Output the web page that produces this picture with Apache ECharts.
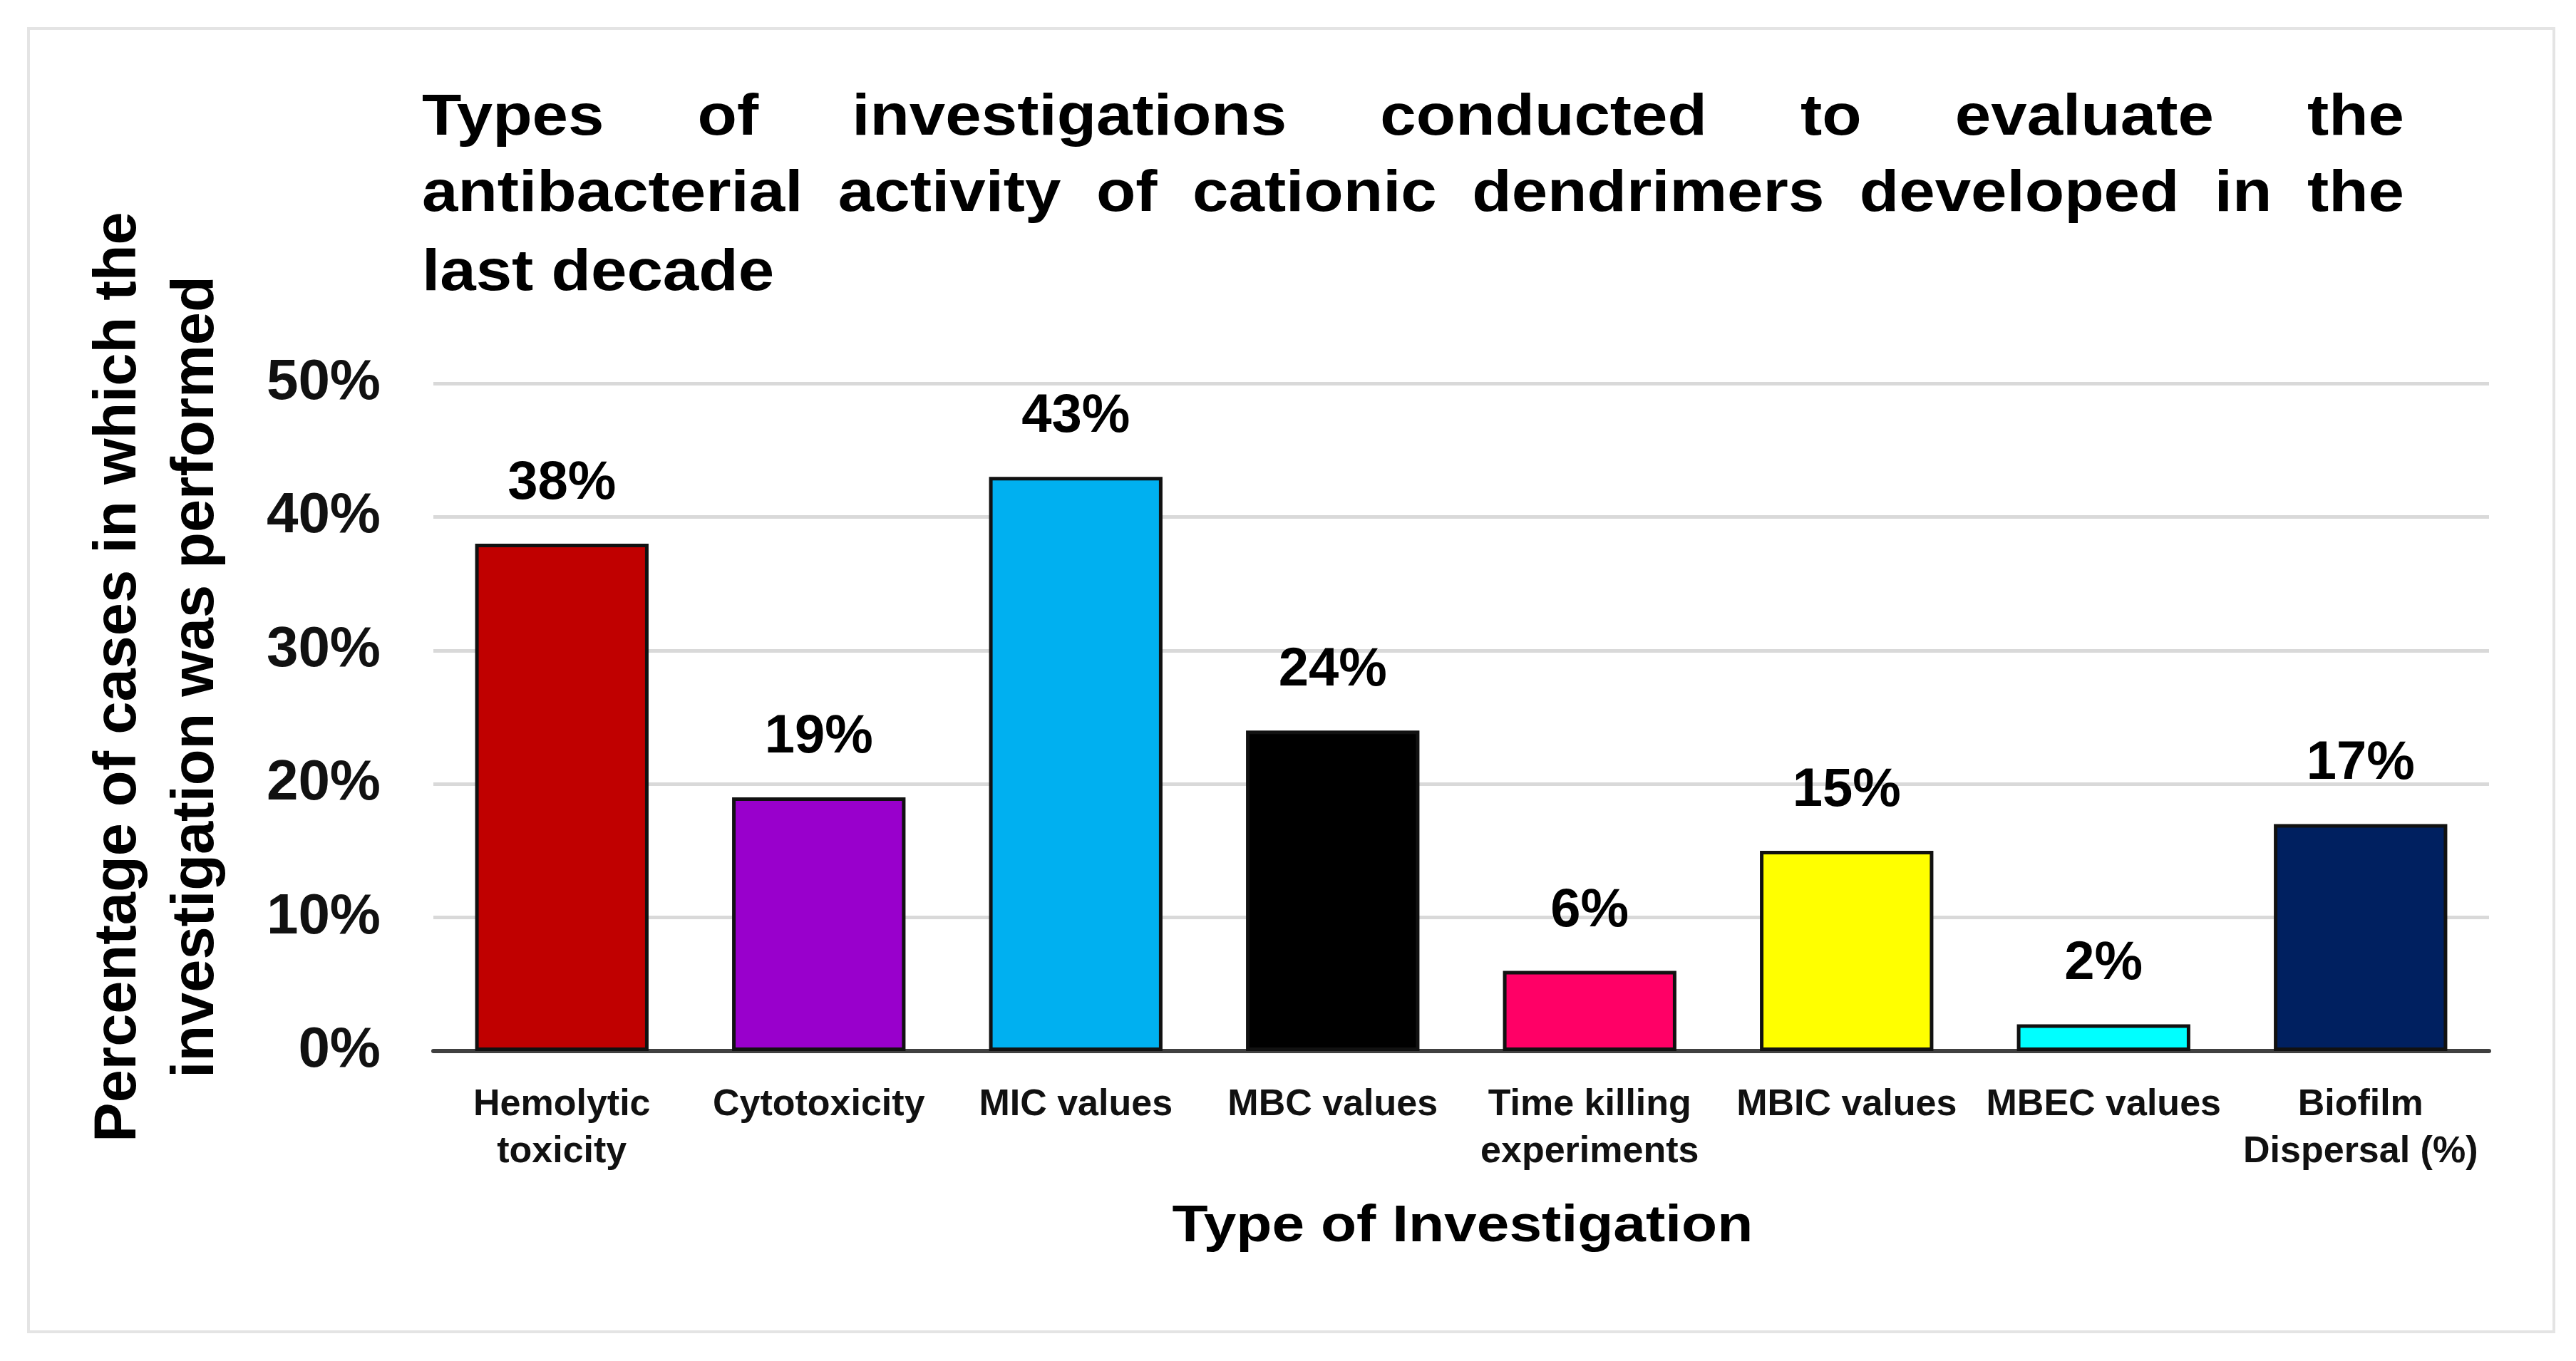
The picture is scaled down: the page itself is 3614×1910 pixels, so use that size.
<!DOCTYPE html>
<html>
<head>
<meta charset="utf-8">
<title>Types of investigations</title>
<script src="https://cdn.jsdelivr.net/npm/echarts@6/dist/echarts.min.js"></script>
<style>
    html, body {margin: 0; padding: 0; background: #fff;}
    #main {width: 3614px; height: 1910px;}
</style>
</head>
<body>
<div id="main"></div>
<script>
const categories = ['Hemolytic\ntoxicity', 'Cytotoxicity', 'MIC values', 'MBC values',
    'Time killing\nexperiments', 'MBIC values', 'MBEC values', 'Biofilm\nDispersal (%)'];
const values = [38, 19, 43, 24, 6, 15, 2, 17];
const barColors = ['#C00000', '#9900CC', '#00B0F0', '#000000', '#FF0066', '#FFFF00', '#00FFFF', '#002060'];
const yMin = 0, yMax = 50, yStep = 10;
const titleLines = [
    'Types of investigations conducted to evaluate the',
    'antibacterial activity of cationic dendrimers developed in the',
    'last decade'
];
const yName = ['Percentage of cases in which the', 'investigation was performed'];
const xName = 'Type of Investigation';

const chartDom = document.getElementById('main');
const myChart = echarts.init(chartDom);
let option;

const family = '"Liberation Sans", Arial, sans-serif';
const titleSize = 81;
const stretch = 1.12;

// the title is justified in the figure, so every word is placed on its own
const ctx = document.createElement('canvas').getContext('2d');
ctx.font = 'bold ' + titleSize + 'px ' + family;

function titleWords(text, y, x0, x1, justify) {
    const words = text.split(' ');
    const widths = words.map(w => ctx.measureText(w).width * stretch);
    const total = widths.reduce((a, b) => a + b, 0);
    const gap = justify ? (x1 - x0 - total) / (words.length - 1) : ctx.measureText(' ').width * stretch;
    let x = x0;
    return words.map((w, i) => {
        const el = {
            type: 'text', x: x, y: y, scaleX: stretch, silent: true,
            style: {text: w, fontSize: titleSize, fontWeight: 'bold', fontFamily: family,
                fill: '#000', verticalAlign: 'middle'}
        };
        x += widths[i] + gap;
        return el;
    });
}

const graphics = [
    {
        type: 'rect', silent: true, z: -1,
        shape: {x: 40, y: 40, width: 3543, height: 1829},
        style: {fill: null, stroke: '#e4e4e4', lineWidth: 4}
    },
    ...titleWords(titleLines[0], 167, 592, 3373, true),
    ...titleWords(titleLines[1], 274, 592, 3373, true),
    ...titleWords(titleLines[2], 385, 592, 3373, false),
    {
        type: 'text', x: 222, y: 950, rotation: Math.PI / 2, silent: true,
        style: {text: yName.join('\n'), fontSize: 83, fontWeight: 'bold', fontFamily: family,
            lineHeight: 109, align: 'center', verticalAlign: 'middle', fill: '#000'}
    },
    {
        type: 'text', x: 2052, y: 1722, scaleX: 1.14, silent: true,
        style: {text: xName, fontSize: 72, fontWeight: 'bold', fontFamily: family,
            align: 'center', verticalAlign: 'middle', fill: '#000'}
    }
];

option = {
    backgroundColor: '#fff',
    animation: false,
    textStyle: {fontFamily: family},
    graphic: {elements: graphics},
    grid: {
        left: 608,
        right: 122,
        top: 538,
        bottom: 435,
        containLabel: false
    },
    xAxis: {
        type: 'category',
        data: categories,
        axisTick: {show: false},
        axisLine: {
            show: true,
            lineStyle: {color: '#404040', width: 6}
        },
        axisLabel: {
            interval: 0,
            margin: 43,
            fontSize: 52,
            lineHeight: 66,
            fontWeight: 'bold',
            color: '#111'
        }
    },
    yAxis: {
        type: 'value',
        min: yMin,
        max: yMax,
        interval: yStep,
        axisLine: {show: false},
        axisTick: {show: false},
        splitLine: {
            lineStyle: {color: '#d9d9d9', width: 5}
        },
        axisLabel: {
            formatter: '{value}%',
            margin: 74,
            fontSize: 80,
            fontWeight: 'bold',
            color: '#111'
        }
    },
    series: [
        {
            type: 'bar',
            barWidth: '67.5%',
            itemStyle: {
                borderColor: '#111',
                borderWidth: 5
            },
            label: {
                show: true,
                position: 'top',
                distance: 46,
                formatter: '{c}%',
                fontSize: 76,
                fontWeight: 'bold',
                color: '#000'
            },
            data: values.map((v, i) => ({value: v, itemStyle: {color: barColors[i]}}))
        }
    ]
};

option && myChart.setOption(option);
</script>
</body>
</html>
